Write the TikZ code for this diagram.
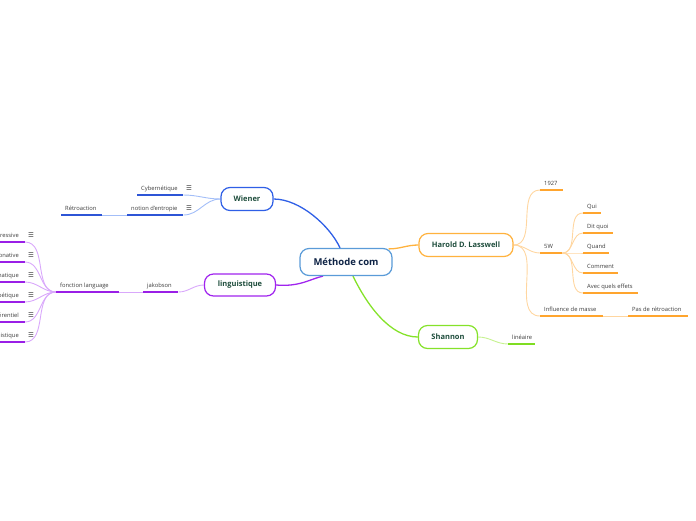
\documentclass[tikz,border=0pt]{standalone}
\usepackage{fontspec}
\setmainfont{Open Sans}
\newfontfamily\dvs{DejaVu Sans}
\usetikzlibrary{backgrounds}
\definecolor{centb}{HTML}{5A9BD8}
\definecolor{centxt}{HTML}{0E2345}
\definecolor{toptxt}{HTML}{1E4D3C}
\definecolor{lbltxt}{HTML}{3A3A3A}
\definecolor{blu}{HTML}{2F5FE6}
\definecolor{lblu}{HTML}{A3BEF8}
\definecolor{ublu}{HTML}{2D55D6}
\definecolor{pur}{HTML}{A024EE}
\definecolor{lpur}{HTML}{D9A8FB}
\definecolor{upur}{HTML}{9A1FE6}
\definecolor{org}{HTML}{FFB23E}
\definecolor{lorg}{HTML}{FFD6A0}
\definecolor{uorg}{HTML}{FFA52E}
\definecolor{grn}{HTML}{85E22A}
\definecolor{lgrn}{HTML}{C6F290}
\definecolor{ugrn}{HTML}{7FDD22}
\newcommand\tx[3][l]{\makebox[#2pt][#1]{#3}}
\tikzset{
  topic/.style={draw=#1, line width=1.2pt, rounded corners=9pt, fill=white,
    text=toptxt, font=\fontsize{7.5}{9}\selectfont\bfseries, inner sep=0pt},
  sub/.style={inner xsep=4pt, inner ysep=3.5pt, text height=4.3pt, text depth=1.3pt,
    font=\fontsize{5.8}{6.8}\selectfont, text=lbltxt,
    append after command={(\tikzlastnode.south west) edge[draw=#1, line width=2pt] (\tikzlastnode.south east)}},
  link/.style={draw=#1, line width=0.9pt},
  mainlink/.style={draw=#1, line width=1.3pt},
  ico/.style={font=\dvs\fontsize{6.5}{6.5}\selectfont, text=lbltxt, inner sep=0pt},
}
\begin{document}
\begin{tikzpicture}[x=1pt,y=-1pt]
\useasboundingbox (0,0) rectangle (696,520);
\clip (0,0) rectangle (696,520);

% central and main topics
\node[draw=centb, line width=1.2pt, rounded corners=9pt, fill=white, minimum width=92pt,
  minimum height=27pt, inner sep=0pt, font=\fontsize{9.5}{11}\selectfont\bfseries, text=centxt]
  (cen) at (346,262) {Méthode com};
\node[topic=blu, minimum width=52pt, minimum height=23pt] (wie) at (247,199) {Wiener};
\node[topic=pur, minimum width=71pt, minimum height=22pt] (lin) at (240,285) {linguistique};
\node[topic=org, minimum width=94pt, minimum height=23pt] (las) at (466,245) {Harold D. Lasswell};
\node[topic=grn, minimum width=59pt, minimum height=23pt] (sha) at (448,337) {Shannon};

% Wiener branch
\node[sub=ublu, anchor=south west] (cyb) at (137,195) {\tx{38}{Cybernétique}};
\node[sub=ublu, anchor=south west] (ent) at (127,215) {\tx{48}{notion d’entropie}};
\node[sub=ublu, anchor=south west] (ret) at (61,215) {\tx{33}{Rétroaction}};
\node[ico] (icyb) at (189,188) {☰};
\node[ico] (ient) at (189,208) {☰};

% linguistique branch
\node[sub=upur, anchor=south west] (jak) at (143,292) {\tx{27}{jakobson}};
\node[sub=upur, anchor=south west] (fl) at (56,292) {\tx{55}{fonction language}};
\node[sub=upur, anchor=south east] (f1) at (25,242) {\tx[r]{60}{expressive\hspace{2pt}}};
\node[sub=upur, anchor=south east] (f2) at (25,262) {\tx[r]{60}{conative\hspace{2pt}}};
\node[sub=upur, anchor=south east] (f3) at (25,282) {\tx[r]{60}{phatique\hspace{2pt}}};
\node[sub=upur, anchor=south east] (f4) at (25,302) {\tx[r]{60}{poétique\hspace{2pt}}};
\node[sub=upur, anchor=south east] (f5) at (25,322) {\tx[r]{60}{référentiel\hspace{2pt}}};
\node[sub=upur, anchor=south east] (f6) at (25,342) {\tx[r]{60}{métalinguistique\hspace{2pt}}};
\foreach \k/\y in {1/235,2/255,3/275,4/295,5/315,6/335}
  \node[ico] (if\k) at (31,\y) {☰};

% Lasswell branch
\node[sub=uorg, anchor=south west] (y27) at (540,190) {\tx{15}{1927}};
\node[sub=uorg, anchor=south west] (w5) at (540,253) {\tx{14}{5W}};
\node[sub=uorg, anchor=south west] (inf) at (540,316) {\tx{55}{Influence de masse}};
\node[sub=uorg, anchor=south west] (pas) at (628,316) {\tx{52}{Pas de rétroaction}};
\node[sub=uorg, anchor=south west] (qui) at (583,213) {\tx{10}{Qui}};
\node[sub=uorg, anchor=south west] (dit) at (583,233) {\tx{22}{Dit quoi}};
\node[sub=uorg, anchor=south west] (qua) at (583,253) {\tx{18}{Quand}};
\node[sub=uorg, anchor=south west] (com) at (583,273) {\tx{27}{Comment}};
\node[sub=uorg, anchor=south west] (ave) at (583,293) {\tx{47}{Avec quels effets}};

% Shannon branch
\node[sub=ugrn, anchor=south west] (lne) at (508,344) {\tx{19}{linéaire}};

\begin{scope}[on background layer]
  \draw[mainlink=blu] (wie.east) .. controls (300,199) and (330,226) .. ([xshift=-6pt]cen.north);
  \draw[mainlink=pur] (lin.east) .. controls (300,287) and (310,279) .. ([xshift=-23pt]cen.south);
  \draw[mainlink=org] ([xshift=-4pt,yshift=-1pt]cen.north east) to[out=0,in=180] (las.west);
  \draw[mainlink=grn] ([xshift=7pt]cen.south) .. controls (367,305) and (390,337) .. (sha.west);

  \draw[link=lblu] (cyb.south east) to[out=0,in=180] (wie.west);
  \draw[link=lblu] (ent.south east) to[out=0,in=180] (wie.west);
  \draw[link=lblu] (ret.south east) -- (ent.south west);

  \draw[link=lpur] (jak.south east) to[out=0,in=180] (lin.west);
  \draw[link=lpur] (fl.south east) -- (jak.south west);
  \foreach \k in {1,...,6}
    \draw[link=lpur] (f\k.south east) to[out=0,in=180] (fl.south west);

  \draw[link=lorg] (las.east) to[out=0,in=180] (y27.south west);
  \draw[link=lorg] (las.east) to[out=0,in=180] (w5.south west);
  \draw[link=lorg] (las.east) to[out=0,in=180] (inf.south west);
  \draw[link=lorg] (inf.south east) -- (pas.south west);
  \foreach \n in {qui,dit,qua,com,ave}
    \draw[link=lorg] (w5.south east) to[out=0,in=180] (\n.south west);

  \draw[link=lgrn] (sha.east) to[out=0,in=180] (lne.south west);
\end{scope}
\end{tikzpicture}
\end{document}
